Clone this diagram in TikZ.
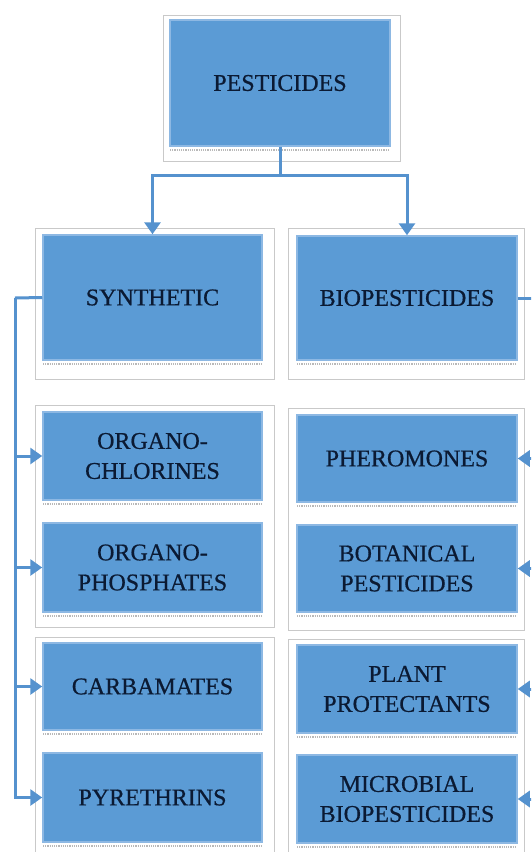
\documentclass[tikz,border=0pt]{standalone}
\usepackage{fontspec}
\setmainfont{Liberation Serif}
\newfontfamily\boxfont[FakeBold=0.6]{Liberation Serif}
\usetikzlibrary{arrows.meta}
\definecolor{boxblue}{HTML}{5B9BD5}
\definecolor{boxedge}{HTML}{8DB8E3}
\definecolor{linkblue}{HTML}{5592CE}
\definecolor{txtnavy}{HTML}{0B1A33}
\definecolor{framegray}{HTML}{C9C9C9}
\tikzset{
  bluebox/.style={draw=boxedge, line width=1.5pt, fill=boxblue, text=txtnavy,
    align=center, inner sep=0pt, font=\boxfont\fontsize{24}{30}\selectfont},
  framebox/.style={draw=framegray, line width=0.8pt, fill=white},
  link/.style={draw=linkblue, line width=3pt},
  linkarrow/.style={link, -{Triangle[length=12pt,width=16pt]}},
  shadowdots/.style={draw=gray!55, densely dotted, line width=1.2pt}
}
\newcommand{\bbox}[6]{% name, x1, y1, x2, y2, text
  \node[bluebox, minimum width={(#4-#2)*1pt}, minimum height={(#5-#3)*1pt}]
    (#1) at ({(#2+#4)/2},{(#3+#5)/2}) {#6};
  \draw[shadowdots] (#2,#5+4) -- (#4,#5+4);
}
\begin{document}
\begin{tikzpicture}[x=1pt,y=-1pt]
\useasboundingbox (0,0) rectangle (531,852);
\clip (0,0) rectangle (531,852);
\fill[white] (0,0) rectangle (531,852);
% frames
\draw[framebox] (163,15) rectangle (400,161);
\draw[framebox] (35,228) rectangle (274,379);
\draw[framebox] (288,228) rectangle (524,379);
\draw[framebox] (35,405) rectangle (274,627);
\draw[framebox] (288,408) rectangle (524,630);
\draw[framebox] (35,637) rectangle (274,870);
\draw[framebox] (288,639) rectangle (524,870);
% boxes
\bbox{pest}{170}{20}{390}{146}{PESTICIDES}
\bbox{syn}{43}{235}{262}{360}{SYNTHETIC}
\bbox{bio}{297}{236}{517}{360}{BIOPESTICIDES}
\bbox{oc}{43}{412}{262}{500}{ORGANO-\\CHLORINES}
\bbox{op}{43}{523}{262}{612}{ORGANO-\\PHOSPHATES}
\bbox{carb}{43}{643}{262}{730}{CARBAMATES}
\bbox{pyr}{43}{753}{262}{842}{PYRETHRINS}
\bbox{pher}{297}{415}{517}{502}{PHEROMONES}
\bbox{bot}{297}{525}{517}{612}{BOTANICAL\\PESTICIDES}
\bbox{plant}{297}{645}{517}{733}{PLANT\\PROTECTANTS}
\bbox{micro}{297}{755}{517}{843}{MICROBIAL\\BIOPESTICIDES}
% connectors from top
\coordinate (hub) at (280,175);
\draw[link] (pest.south) -- (hub);
\draw[linkarrow] (hub) -| (syn.north);
\draw[linkarrow] (hub) -| (bio.north);
% left bus
\coordinate (lbus) at (15,298);
\draw[link] (syn.west) -- (lbus);
\foreach \n in {oc,op,carb,pyr}
  \draw[linkarrow] (lbus) |- (\n.west);
% right bus (partly outside the picture)
\coordinate (rbus) at (537,298);
\draw[link] (bio.east) -- (rbus);
\foreach \n in {pher,bot,plant,micro}
  \draw[linkarrow] (rbus) |- (\n.east);
\end{tikzpicture}
\end{document}
